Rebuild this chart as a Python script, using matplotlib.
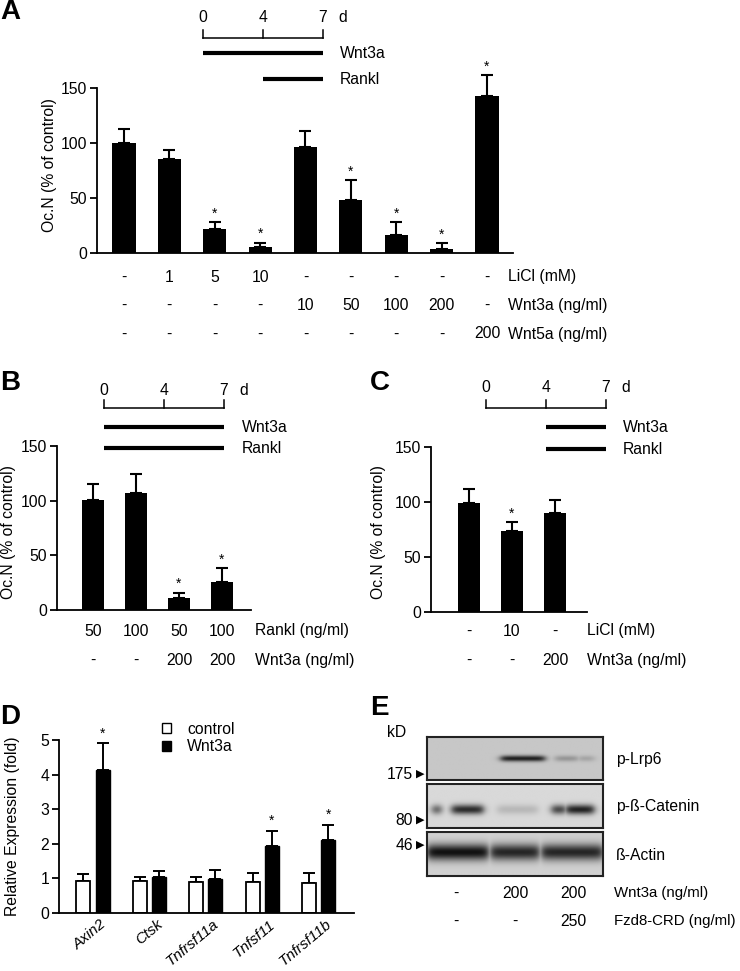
import numpy as np
import matplotlib
matplotlib.use('Agg')
import matplotlib.pyplot as plt
from matplotlib.transforms import blended_transform_factory as btf
from matplotlib.patches import Patch

plt.rcParams['font.family'] = ['Liberation Sans', 'DejaVu Sans']

# ---------------- data ----------------
timeline_days = ['0', '4', '7']

# Panel A
a_means = [100, 85, 22, 5, 96, 48, 16, 4, 143]
a_err = [13, 9, 6, 4.5, 15, 18, 12, 5, 19]
a_sig = [False, False, True, True, False, True, True, True, True]
a_licl = ['-', '1', '5', '10', '-', '-', '-', '-', '-']
a_wnt3a = ['-', '-', '-', '-', '10', '50', '100', '200', '-']
a_wnt5a = ['-', '-', '-', '-', '-', '-', '-', '-', '200']
a_row_labels = ['LiCl (mM)', 'Wnt3a (ng/ml)', 'Wnt5a (ng/ml)']
a_treat = [('Wnt3a', '0', '7'), ('Rankl', '4', '7')]

# Panel B
b_means = [101, 107, 11, 26]
b_err = [14, 17, 5, 12]
b_sig = [False, False, True, True]
b_rankl = ['50', '100', '50', '100']
b_wnt3a = ['-', '-', '200', '200']
b_row_labels = ['Rankl (ng/ml)', 'Wnt3a (ng/ml)']
b_treat = [('Wnt3a', '0', '7'), ('Rankl', '0', '7')]

# Panel C
c_means = [99, 74, 90]
c_err = [13, 8, 12]
c_sig = [False, True, False]
c_licl = ['-', '10', '-']
c_wnt3a = ['-', '-', '200']
c_row_labels = ['LiCl (mM)', 'Wnt3a (ng/ml)']
c_treat = [('Wnt3a', '4', '7'), ('Rankl', '4', '7')]

# Panel D
d_genes = ['Axin2', 'Ctsk', 'Tnfrsf11a', 'Tnfsf11', 'Tnfrsf11b']
d_control = [0.93, 0.93, 0.90, 0.90, 0.87]
d_control_err = [0.20, 0.10, 0.13, 0.26, 0.29]
d_wnt3a = [4.13, 1.03, 0.98, 1.93, 2.10]
d_wnt3a_err = [0.78, 0.18, 0.27, 0.45, 0.45]
d_sig = [True, False, False, True, True]

# Panel E (blot band darkness per segment: x-start, x-end, darkness)
e_proteins = ['p-Lrp6', 'p-ß-Catenin', 'ß-Actin']
e_markers = ['175', '80', '46']
e_background = [0.78, 0.85, 0.82]
e_bands = [
    [(0.42, 0.67, 0.85), (0.73, 0.86, 0.25), (0.86, 0.95, 0.18)],
    [(0.03, 0.08, 0.6), (0.14, 0.32, 0.8), (0.40, 0.63, 0.15),
     (0.71, 0.79, 0.7), (0.79, 0.95, 0.85)],
    [(0.0, 0.35, 0.92), (0.36, 0.64, 0.82), (0.65, 1.0, 0.82)],
]
e_band_y = [0.50, 0.58, 0.47]
e_band_sigma = [0.05, 0.08, 0.13]
e_wnt3a = ['-', '200', '200']
e_fzd8 = ['-', '-', '250']
e_row_labels = ['Wnt3a (ng/ml)', 'Fzd8-CRD (ng/ml)']

# ---------------- layout helpers ----------------
W, H = 740, 971
fig = plt.figure(figsize=(W / 100, H / 100), dpi=100)


def rect(l, t, r, b):
    return [l / W, 1 - b / H, (r - l) / W, (b - t) / H]


def fx(x):
    return x / W


def fy(y):
    return 1 - y / H


FS = 11.3


def style_ax(ax):
    for s in ['top', 'right']:
        ax.spines[s].set_visible(False)
    for s in ['left', 'bottom']:
        ax.spines[s].set_linewidth(1.3)
    ax.tick_params(axis='y', length=5, width=1.3, labelsize=FS, pad=2)
    ax.tick_params(axis='x', length=0, labelbottom=False)


def bar_panel(ax, means, err, sig, width):
    xs = np.arange(len(means))
    ax.bar(xs, means, width=width, color='black', zorder=2)
    ax.errorbar(xs, means, yerr=[np.zeros(len(err)), err], fmt='none',
                ecolor='black', elinewidth=1.5, capsize=4.5, capthick=1.5,
                zorder=1, clip_on=False)
    for x, m, e, s in zip(xs, means, err, sig):
        if s:
            ax.annotate('*', (x, m + e), xytext=(0, 1), textcoords='offset points',
                        ha='center', va='bottom', fontsize=10,
                        annotation_clip=False)
    return xs


def cond_rows(ax, xs, rows, labels, ys, label_x, label_fs=FS):
    tr = btf(ax.transData, fig.transFigure)
    for vals, lab, y in zip(rows, labels, ys):
        for x, v in zip(xs, vals):
            ax.text(x, fy(y), v, transform=tr, ha='center', va='center',
                    fontsize=FS, clip_on=False)
        fig.text(fx(label_x), fy(y), lab, ha='left', va='center', fontsize=label_fs)


def timeline(l, r, y_num, y_br, treatments, ys, label_x):
    top = y_num - 10
    bot = max(ys) + 6
    tax = fig.add_axes(rect(l, top, r, bot))
    tax.set_xlim(0, 1)
    tax.set_ylim(bot, top)
    tax.axis('off')
    pos = np.linspace(0, 1, len(timeline_days))
    tax.plot([0, 1], [y_br, y_br], color='black', lw=1.1, clip_on=False)
    px = 1.0 / (r - l)
    for p, d in zip(pos, timeline_days):
        tax.plot([p, p], [y_br, y_br - 8], color='black', lw=1.1, clip_on=False)
        tax.text(p, y_num, d, ha='center', va='center', fontsize=FS)
    tax.text(1 + 20 * px, y_num, 'd', ha='center', va='center', fontsize=FS)
    for (name, s, e), y in zip(treatments, ys):
        x0 = pos[timeline_days.index(s)]
        x1 = pos[timeline_days.index(e)]
        tax.plot([x0, x1], [y, y], color='black', lw=3, solid_capstyle='butt',
                 clip_on=False)
        fig.text(fx(label_x), fy(y), name, ha='left', va='center', fontsize=FS)


def letter(x, y, s):
    fig.text(fx(x), fy(y), s, ha='left', va='center', fontsize=20,
             fontweight='bold')


# ---------------- Panel A ----------------
axA = fig.add_axes(rect(97, 88, 513, 253))
style_ax(axA)
xsA = bar_panel(axA, a_means, a_err, a_sig, 0.51)
axA.set_xlim(-0.595, 8.573)
axA.set_ylim(0, 150)
axA.set_yticks([0, 50, 100, 150])
cond_rows(axA, xsA, [a_licl, a_wnt3a, a_wnt5a], a_row_labels, [277, 305, 334], 508)
timeline(203, 323, 17, 38, a_treat, [53, 79], 340)
fig.text(fx(50), fy(165), 'Oc.N (% of control)', rotation=90, ha='center',
         va='center', fontsize=FS)
letter(0, 12, 'A')

# ---------------- Panel B ----------------
axB = fig.add_axes(rect(57, 446, 251, 610))
style_ax(axB)
xsB = bar_panel(axB, b_means, b_err, b_sig, 0.51)
axB.set_xlim(-0.837, 3.674)
axB.set_ylim(0, 150)
axB.set_yticks([0, 50, 100, 150])
cond_rows(axB, xsB, [b_rankl, b_wnt3a], b_row_labels, [631, 660], 255)
timeline(104, 224, 390, 408, b_treat, [427, 448], 242)
fig.text(fx(9), fy(532), 'Oc.N (% of control)', rotation=90, ha='center',
         va='center', fontsize=FS)
letter(0, 383, 'B')

# ---------------- Panel C ----------------
axC = fig.add_axes(rect(431, 447, 587, 612))
style_ax(axC)
xsC = bar_panel(axC, c_means, c_err, c_sig, 0.53)
axC.set_xlim(-0.884, 2.744)
axC.set_ylim(0, 150)
axC.set_yticks([0, 50, 100, 150])
cond_rows(axC, xsC, [c_licl, c_wnt3a], c_row_labels, [631, 660], 587)
timeline(486, 606, 388, 408, c_treat, [427, 449], 623)
fig.text(fx(379), fy(532), 'Oc.N (% of control)', rotation=90, ha='center',
         va='center', fontsize=FS)
letter(370, 383, 'C')

# ---------------- Panel D ----------------
axD = fig.add_axes(rect(59, 740, 354, 913))
style_ax(axD)
xd = np.arange(len(d_genes))
bw, off = 0.25, 0.17
axD.bar(xd - off, d_control, width=bw, color='white', edgecolor='black',
        linewidth=1.3, zorder=2)
axD.bar(xd + off, d_wnt3a, width=bw, color='black', edgecolor='black',
        linewidth=1.0, zorder=2)
axD.errorbar(xd - off, d_control, yerr=[np.zeros(len(xd)), d_control_err],
             fmt='none', ecolor='black', elinewidth=1.4, capsize=4.5,
             capthick=1.4, zorder=1)
axD.errorbar(xd + off, d_wnt3a, yerr=[np.zeros(len(xd)), d_wnt3a_err],
             fmt='none', ecolor='black', elinewidth=1.4, capsize=4.5,
             capthick=1.4, zorder=1)
for x, m, e, s in zip(xd + off, d_wnt3a, d_wnt3a_err, d_sig):
    if s:
        axD.annotate('*', (x, m + e), xytext=(0, 2), textcoords='offset points',
                     ha='center', va='bottom', fontsize=10, annotation_clip=False)
axD.set_xlim(-0.603, 4.628)
axD.set_ylim(0, 5)
axD.set_yticks([0, 1, 2, 3, 4, 5])
axD.set_xticks(xd + 0.12)
axD.set_xticklabels(d_genes, rotation=40, ha='right', rotation_mode='anchor',
                    fontstyle='italic', fontsize=11)
axD.tick_params(axis='x', length=0, labelbottom=True, pad=3)
fig.text(fx(13), fy(826), 'Relative Expression (fold)', rotation=90,
         ha='center', va='center', fontsize=FS)
handles = [Patch(facecolor='white', edgecolor='black', linewidth=1.0, label='control'),
           Patch(facecolor='black', edgecolor='black', label='Wnt3a')]
fig.legend(handles=handles, loc='upper left', bbox_to_anchor=(fx(151), fy(711)),
           frameon=False, fontsize=FS, handlelength=0.6, handleheight=0.6,
           handletextpad=1.0, labelspacing=0.15, borderpad=0.2)
letter(0, 717, 'D')

# ---------------- Panel E ----------------
strips = [(737, 780), (784, 828), (832, 876)]
xx = np.linspace(0, 1, 360)
yy = np.linspace(0, 1, 90)
for i, (t, b) in enumerate(strips):
    ax = fig.add_axes(rect(427, t, 603, b))
    dark = np.zeros((len(yy), len(xx)))
    vprof = np.exp(-0.5 * ((yy - e_band_y[i]) / e_band_sigma[i]) ** 2)
    for x0, x1, d in e_bands[i]:
        hprof = d / ((1 + np.exp(-(xx - x0) / 0.012)) * (1 + np.exp((xx - x1) / 0.012)))
        dark = np.maximum(dark, vprof[:, None] * hprof[None, :])
    img = e_background[i] * (1 - dark)
    ax.imshow(img, cmap='gray', vmin=0, vmax=1, aspect='auto',
              extent=(0, 1, 1, 0), interpolation='bilinear')
    ax.set_xticks([])
    ax.set_yticks([])
    for s in ax.spines.values():
        s.set_linewidth(1.5)
        s.set_color('#222222')
    fig.text(fx(616), fy((t + b) / 2 + 1), e_proteins[i], ha='left', va='center',
             fontsize=FS)
    if i == 0:
        ax_e_top = ax

marker_y = [774, 820, 845]
for lab, y in zip(e_markers, marker_y):
    fig.text(fx(413), fy(y), lab, ha='right', va='center', fontsize=FS)
    fig.text(fx(416), fy(y), '\u25B6', ha='left', va='center', fontsize=8,
             family=['DejaVu Sans'])
fig.text(fx(387), fy(732), 'kD', ha='left', va='center', fontsize=FS)

lane_x = (np.arange(len(e_wnt3a)) + 0.5) / len(e_wnt3a)
cond_rows(ax_e_top, lane_x, [e_wnt3a, e_fzd8], e_row_labels, [893, 921], 614,
          label_fs=10.8)
letter(370, 708, 'E')

fig.savefig('out.png', dpi=100)
